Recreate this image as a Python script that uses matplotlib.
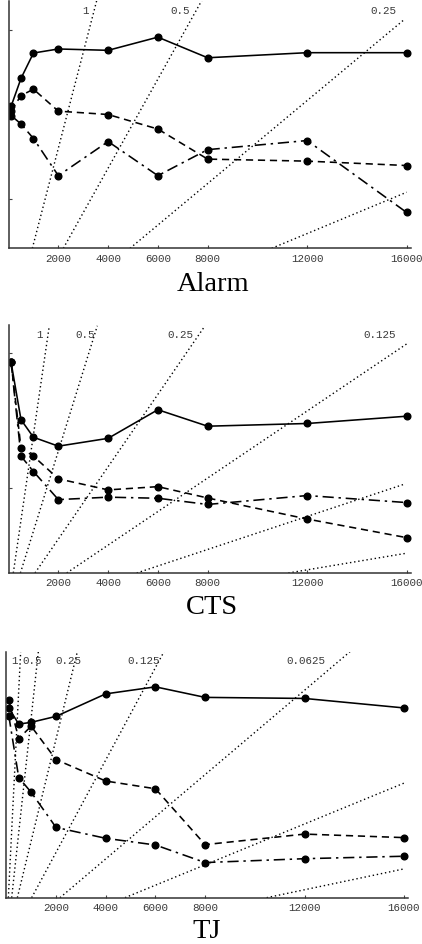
import numpy as np
import matplotlib.pyplot as plt

## Data (y values are on an arbitrary scale)
# sample sizes
sizes = [100, 500, 1000, 2000, 4000, 6000, 8000, 12000, 16000]
xticks = [2000, 4000, 6000, 8000, 12000, 16000]

# Alarm
alarm_solid = [0.774, 0.857, 0.932, 0.944, 0.940, 0.979, 0.918, 0.933, 0.933]
alarm_dashed = [0.761, 0.806, 0.825, 0.760, 0.750, 0.707, 0.618, 0.612, 0.599]
alarm_dashdot = [0.747, 0.722, 0.679, 0.569, 0.670, 0.569, 0.646, 0.673, 0.460]
alarm_guide_x0 = [955, 2201, 4880, 10574]
alarm_guide_y0 = [0.354, 0.354, 0.354, 0.354]
alarm_guide_x1 = [3541, 7761, 15933, 16000]
alarm_guide_y1 = [1.087, 1.087, 1.033, 0.520]
alarm_labels = ['1', '0.5', '0.25']
alarm_label_x = [3072, 6890, 15062]
alarm_label_y = 1.060

# CTS
cts_solid = [0.967, 0.754, 0.689, 0.656, 0.685, 0.791, 0.730, 0.740, 0.767]
cts_dashed = [0.967, 0.649, 0.619, 0.535, 0.494, 0.506, 0.464, 0.386, 0.317]
cts_dashdot = [0.967, 0.619, 0.562, 0.458, 0.467, 0.463, 0.440, 0.473, 0.447]
cts_guide_x0 = [190, 476, 1062, 2336, 5150, 11243]
cts_guide_y0 = [0.186] * 6
cts_guide_x1 = [1637, 3566, 7895, 16001, 15933, 15973]
cts_guide_y1 = [1.102, 1.102, 1.102, 1.035, 0.516, 0.259]
cts_labels = ['1', '0.5', '0.25', '0.125']
cts_label_x = [1263, 3072, 6890, 14928]
cts_label_y = 1.072

# TJ
tj_solid = [0.840, 0.794, 0.799, 0.816, 0.880, 0.900, 0.870, 0.867, 0.840]
tj_dashed = [0.862, 0.753, 0.788, 0.693, 0.632, 0.610, 0.451, 0.481, 0.471]
tj_dashdot = [0.818, 0.642, 0.600, 0.500, 0.469, 0.450, 0.400, 0.411, 0.418]
tj_guide_x0 = [82, 216, 444, 1020, 2160, 4775, 10475]
tj_guide_y0 = [0.3] * 7
tj_guide_x1 = [578, 1289, 2858, 6344, 13827, 16000, 16000]
tj_guide_y1 = [1.0, 1.0, 1.0, 1.0, 1.0, 0.626, 0.382]
tj_labels = ['1', '0.5', '0.25', '0.125', '0.0625']
tj_label_x = [350, 1049, 2496, 5513, 12057]
tj_label_y = 0.977

W, H = 422, 945
fig = plt.figure(figsize=(W / 100, H / 100), dpi=100)

mono = 'Liberation Mono'
grey = '#3a3a3a'

def panel(rect, xlim, ylim, yt, solid, dashed, dashdot, gx0, gy0, gx1, gy1,
          labels, lx, ly, title, tx, ty):
    ax = fig.add_axes(rect)
    for i in range(len(gx0)):
        ax.plot([gx0[i], gx1[i]], [gy0[i], gy1[i]], color='black',
                linestyle=(0, (1, 2.0)), linewidth=1.0)
    for i in range(len(labels)):
        ax.text(lx[i], ly, labels[i], family=mono, fontsize=7.8, color=grey,
                ha='center', va='center')
    kw = dict(color='black', marker='o', markersize=4.8, linewidth=1.15)
    ax.plot(sizes, dashdot, linestyle=(0, (7, 3, 1.5, 3)), **kw)
    ax.plot(sizes, dashed, linestyle=(0, (4.5, 3)), **kw)
    ax.plot(sizes, solid, linestyle='-', **kw)
    ax.set_xlim(xlim)
    ax.set_ylim(ylim)
    ax.set_xticks(xticks)
    ax.set_xticklabels([str(t) for t in xticks], family=mono, fontsize=7.8,
                       color=grey)
    ax.set_yticks(yt)
    ax.set_yticklabels([])
    ax.tick_params(direction='in', length=2.5, width=0.8, color='#444444',
                   pad=3.2)
    for s in ['top', 'right']:
        ax.spines[s].set_visible(False)
    for s in ['left', 'bottom']:
        ax.spines[s].set_color('#333333')
        ax.spines[s].set_linewidth(1.1)
    ax.patch.set_alpha(0)
    fig.text(tx, ty, title, family='Liberation Serif', fontsize=20.5,
             ha='center', va='baseline')
    return ax

panel([8.57 / W, 1 - 249.3 / H, 402.1 / W, 247.3 / H], (0, 16160),
      (0.354, 1.086), [0.5, 1.0], alarm_solid, alarm_dashed, alarm_dashdot,
      alarm_guide_x0, alarm_guide_y0, alarm_guide_x1, alarm_guide_y1,
      alarm_labels, alarm_label_x, alarm_label_y, 'Alarm', 213 / W,
      1 - 290.7 / H)

panel([8.57 / W, 1 - 574 / H, 402.1 / W, 248 / H], (0, 16160),
      (0.186, 1.105), [0.5, 1.0], cts_solid, cts_dashed, cts_dashdot,
      cts_guide_x0, cts_guide_y0, cts_guide_x1, cts_guide_y1,
      cts_labels, cts_label_x, cts_label_y, 'CTS', 212 / W, 1 - 614 / H)

panel([6.3 / W, 1 - 898.7 / H, 402 / W, 246 / H], (0, 16174),
      (0.3, 1.0), [], tj_solid, tj_dashed, tj_dashdot,
      tj_guide_x0, tj_guide_y0, tj_guide_x1, tj_guide_y1,
      tj_labels, tj_label_x, tj_label_y, 'TJ', 207 / W, 1 - 937.7 / H)

fig.savefig('out.png', dpi=100)
